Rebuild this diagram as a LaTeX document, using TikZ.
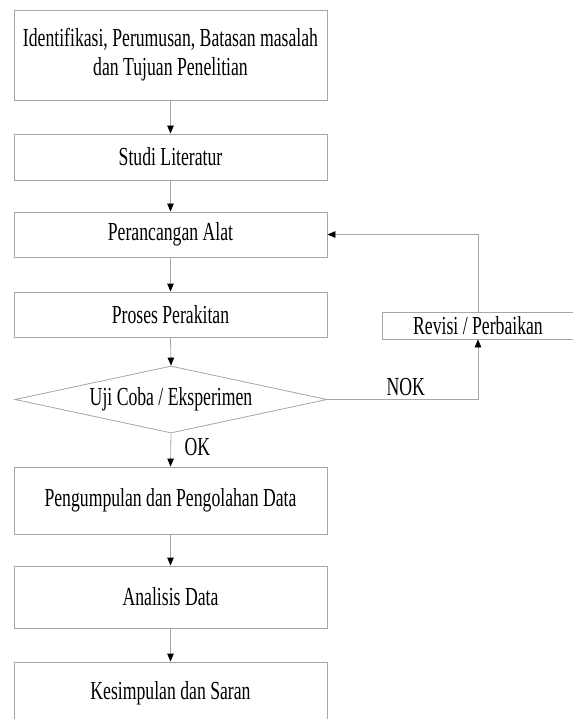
\documentclass[tikz,border=0pt]{standalone}
\usepackage{fontspec}
\setmainfont[FakeStretch=0.68]{Liberation Serif}
\usetikzlibrary{shapes.geometric, arrows.meta}
\begin{document}
\begin{tikzpicture}[
		x=1pt, y=-1pt,
		font=\fontsize{26}{29}\selectfont,
		box/.style = {rectangle, draw=gray!70, thick, minimum width=313pt, align=center, inner sep=0pt},
		dec/.style = {diamond, draw=gray!70, thick, aspect=4.66, minimum width=312pt, minimum height=67pt, inner sep=0pt},
		rev/.style = {rectangle, draw=gray!70, thick, minimum width=192pt, minimum height=27pt, inner sep=0pt},
		r/.style = {-{Triangle[length=8pt, width=6.5pt, black]}, draw=gray!70, thick}
		]
		\useasboundingbox (0, 0) rectangle (572, 719);
		
		%Nodes
		\node[box, minimum height=90pt]	(ident)		at	(170.5, 55)	{Identifikasi, Perumusan, Batasan masalah\\dan Tujuan Penelitian};
		\node[box, minimum height=46pt]	(studi)		at	(170.5, 157)	{Studi Literatur};
		\node[box, minimum height=45pt]	(rancang)	at	(170.5, 234.5)	{Perancangan Alat};
		\node[box, minimum height=45pt]	(rakit)		at	(170.5, 314.5)	{Proses Perakitan};
		\node[dec]						(uji)		at	(171, 399.5)	{Uji Coba / Eksperimen};
		\node[box, minimum height=67pt]	(kumpul)	at	(170.5, 500.5)	{Pengumpulan dan Pengolahan Data};
		\node[box, minimum height=62pt]	(analisis)	at	(170.5, 597)	{Analisis Data};
		\node[box, minimum height=62pt]	(simpul)	at	(170.5, 693)	{Kesimpulan dan Saran};
		\node[rev]						(revisi)	at	(478, 325.5)	{Revisi / Perbaikan};
		
		%Lines
		\draw[r]	(ident.south)	to	(studi.north);
		\draw[r]	(studi.south)	to	(rancang.north);
		\draw[r]	(rancang.south)	to	(rakit.north);
		\draw[r]	(rakit.south)	to	(uji.north);
		\draw[r]	(uji.south)		to	node[right, pos=0.4, xshift=10pt]	{OK}	(kumpul.north);
		\draw[r]	(uji.east)		-|	node[above, pos=0.26]	{NOK}	(revisi.south);
		\draw[r]	(revisi.north)	|-	(rancang.east);
		\draw[r]	(kumpul.south)	to	(analisis.north);
		\draw[r]	(analisis.south)	to	(simpul.north);
	\end{tikzpicture}
\end{document}
